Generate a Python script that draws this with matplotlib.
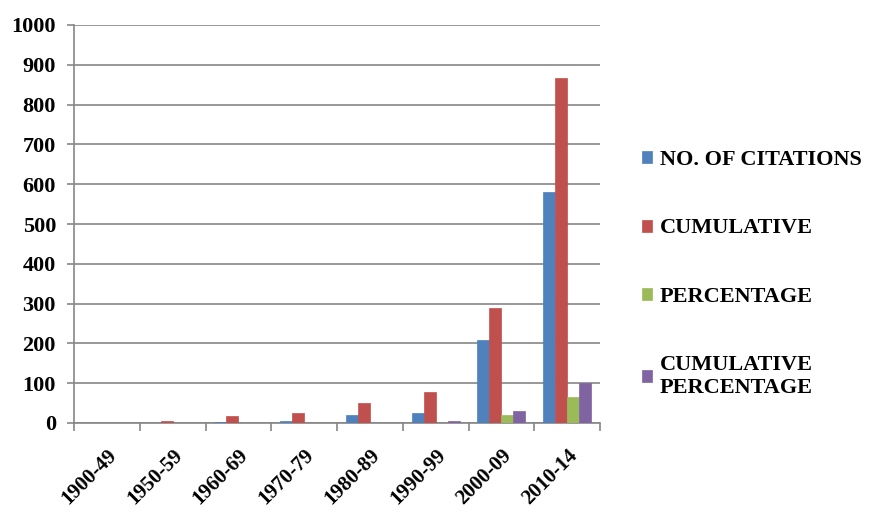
import numpy as np
import matplotlib.pyplot as plt

periods = ["1900-49", "1950-59", "1960-69", "1970-79", "1980-89", "1990-99", "2000-09", "2010-14"]
citations = [0, 1, 3, 5, 21, 25, 208, 580]
cumulative = [0, 4, 17, 25, 49, 77, 288, 867]
percentage = [0, 0, 0, 0, 0, 1, 20, 65]
cum_percentage = [0, 0, 0, 1, 1, 6, 31, 100]

series = [
    ("NO. OF CITATIONS", citations, "#4F81BD"),
    ("CUMULATIVE", cumulative, "#C0504D"),
    ("PERCENTAGE", percentage, "#9BBB59"),
    ("CUMULATIVE\nPERCENTAGE", cum_percentage, "#8064A2"),
]

plt.rcParams['font.family'] = ['Liberation Serif', 'DejaVu Serif']
plt.rcParams['font.weight'] = 'bold'

fig = plt.figure(figsize=(8.69, 5.12), dpi=100)
ax = fig.add_axes([74 / 869, 89 / 512, 526 / 869, 398 / 512])

x = np.arange(len(periods))
w = 1 / 5.5
for i, (name, vals, col) in enumerate(series):
    ax.bar(x + (i - 1.5) * w, vals, w, color=col, edgecolor=col, linewidth=0.5,
           label=name, zorder=3)

ax.set_xlim(-0.5, len(periods) - 0.5)
ax.set_ylim(0, 1000)
ax.set_yticks(np.arange(0, 1001, 100))
ax.yaxis.grid(True, color="#868686", linewidth=1.2, zorder=0)
ax.set_xticks(np.arange(-0.5, len(periods), 1))
ax.set_xticklabels([])
ax.set_xticks(x, minor=True)
ax.set_xticklabels(periods, minor=True, rotation=45, ha='right', va='top',
                   rotation_mode='anchor', fontsize=15, fontweight='bold')
ax.tick_params(axis='x', which='minor', length=0, pad=16)
ax.tick_params(axis='x', which='major', length=6, width=1.2, color="#868686")
ax.tick_params(axis='y', length=5, width=1.2, color="#868686", labelsize=16, pad=8)
for lab in ax.get_yticklabels():
    lab.set_fontweight('bold')
for s in ['top', 'right']:
    ax.spines[s].set_visible(False)
for s in ['left', 'bottom']:
    ax.spines[s].set_color("#868686")
    ax.spines[s].set_linewidth(1.2)

fig.legend(loc='upper left', bbox_to_anchor=(622 / 869, 1 - 130 / 512), frameon=False,
           handlelength=0.45, handleheight=0.45, handletextpad=0.35, labelspacing=2.18,
           prop={'family': 'Liberation Serif', 'weight': 'bold', 'size': 16})

fig.savefig("out.png", dpi=100)
